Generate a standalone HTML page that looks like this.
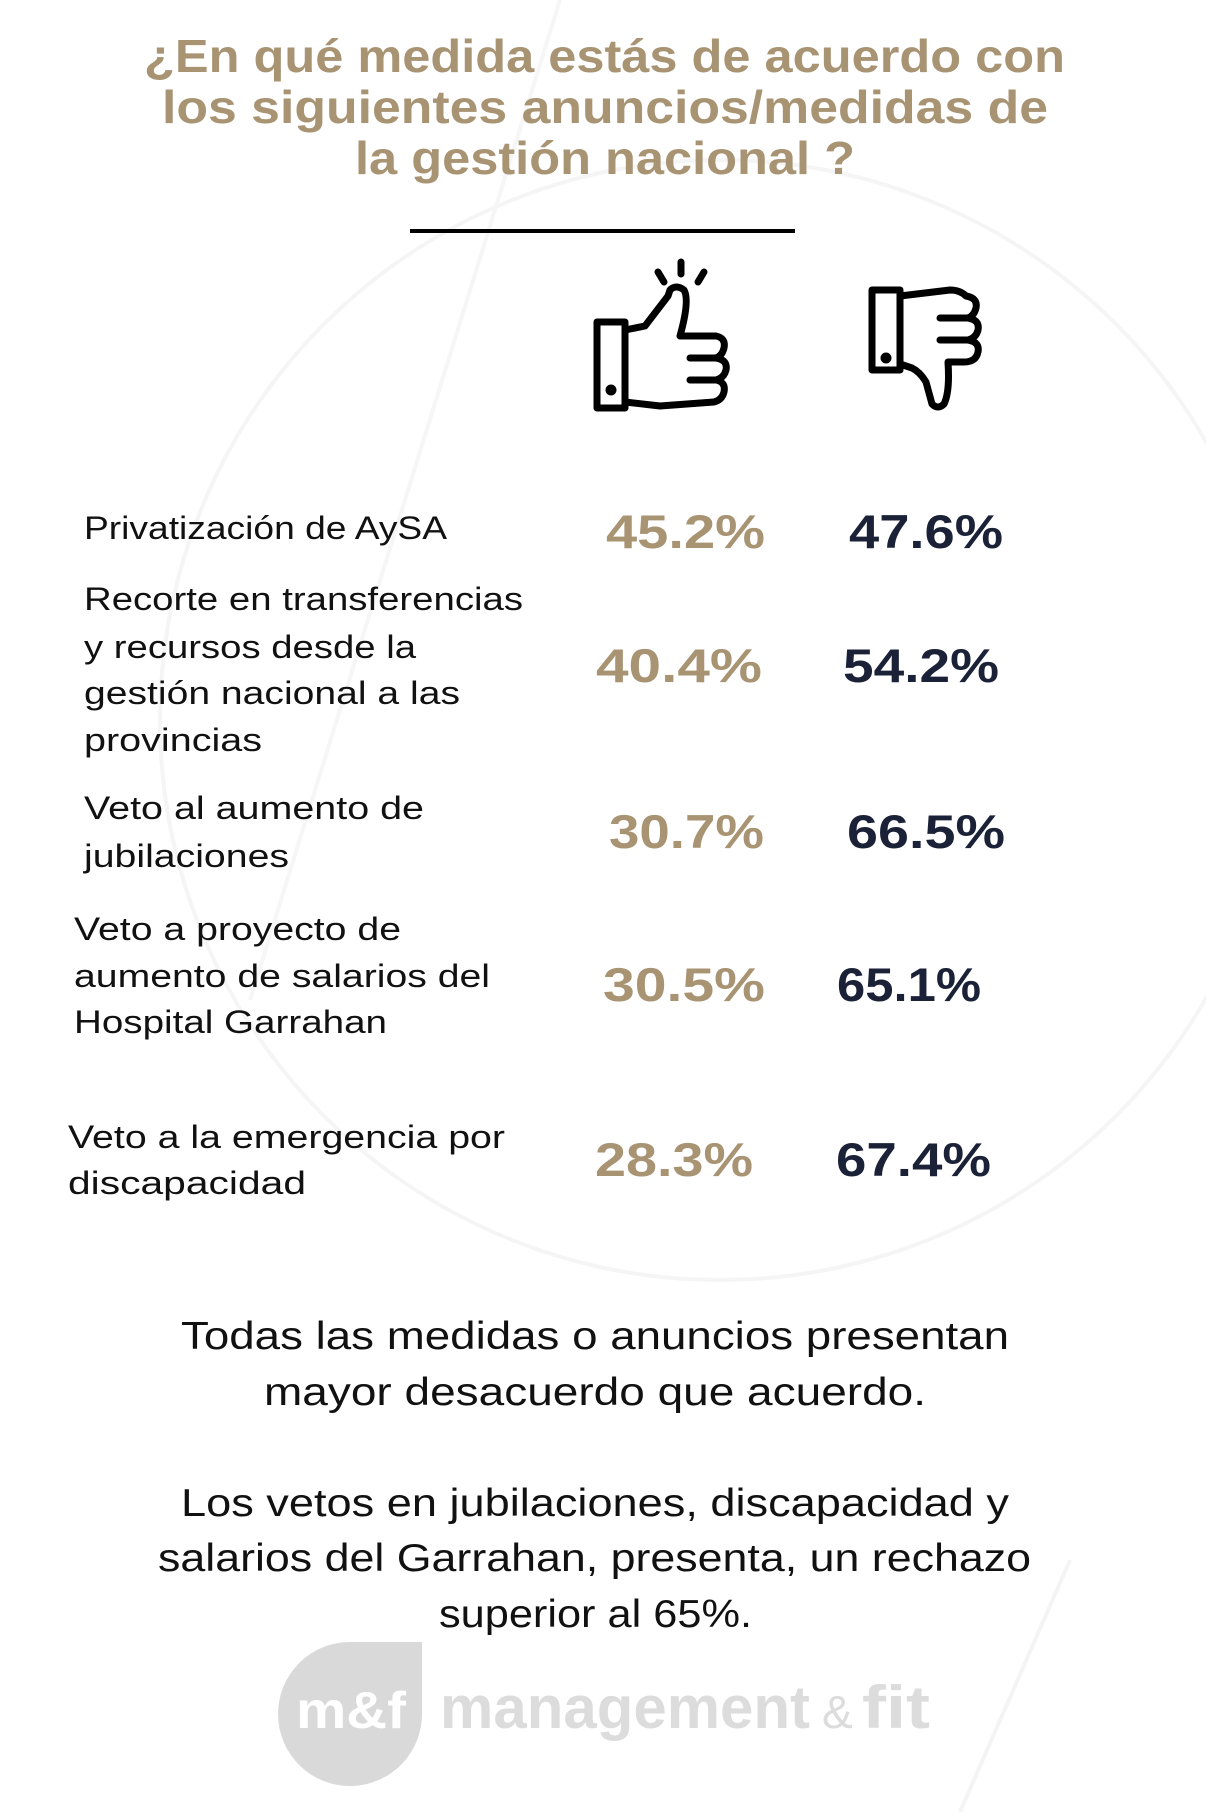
<!DOCTYPE html>
<html><head><meta charset="utf-8"><style>
html,body{margin:0;padding:0;background:#fff;}
svg{display:block;}
text{font-family:"Liberation Sans",sans-serif;}
</style></head><body>
<svg width="1206" height="1812" viewBox="0 0 1206 1812" xmlns="http://www.w3.org/2000/svg">
<rect width="1206" height="1812" fill="#fff"/>
<circle cx="720" cy="720" r="560" fill="none" stroke="#f5f5f5" stroke-width="4"/>
<path d="M560 0 L250 1000" stroke="#f6f6f6" stroke-width="4" fill="none"/>
<path d="M1070 1560 L960 1812" stroke="#f4f4f4" stroke-width="4" fill="none"/>
<g fill="#a89373" font-weight="bold" font-size="46" text-anchor="start">
<text x="144" y="72" textLength="921" lengthAdjust="spacingAndGlyphs">¿En qué medida estás de acuerdo con</text>
<text x="162" y="123" textLength="886" lengthAdjust="spacingAndGlyphs">los siguientes anuncios/medidas de</text>
<text x="355" y="174" textLength="500" lengthAdjust="spacingAndGlyphs">la gestión nacional ?</text>
</g>
<rect x="410" y="229" width="385" height="4" fill="#000"/>
<g fill="none" stroke="#000" stroke-width="7" stroke-linejoin="round" stroke-linecap="round">
<path d="M681 262 L681 274 M658 272 L664 282 M704 272 L698 282"/>
<rect x="597" y="322" width="28" height="86"/>
<path d="M625 330 L645 326 Q665 300 668 296 L670 290 Q676 284 684 290 Q690 300 680 336 L716 336 Q726 338 724 348 Q722 356 716 358 Q728 360 726 370 Q724 378 716 380 Q726 382 724 392 Q722 400 714 402 L660 406 L625 402"/>
<path d="M690 358 L716 358 M690 380 L716 380"/>
<circle cx="611" cy="390" r="2" fill="#000"/>
</g>
<g fill="none" stroke="#000" stroke-width="7" stroke-linejoin="round" stroke-linecap="round">
<rect x="872" y="290" width="28" height="80"/>
<path d="M900 296 L950 290 Q960 290 966 296 Q978 298 976 308 Q974 316 968 318 Q980 320 978 330 Q976 338 968 340 Q980 342 978 352 Q976 362 964 362 L948 362 Q950 392 944 404 Q938 410 932 404 L926 382 Q920 372 912 368 L900 364"/>
<path d="M940 318 L968 318 M940 340 L968 340"/>
<circle cx="886" cy="358" r="2" fill="#000"/>
</g>
<g fill="#111" font-size="32">
<text x="84" y="539" textLength="363" lengthAdjust="spacingAndGlyphs">Privatización de AySA</text>
<text x="84" y="610" textLength="439" lengthAdjust="spacingAndGlyphs">Recorte en transferencias</text>
<text x="84" y="658" textLength="332" lengthAdjust="spacingAndGlyphs">y recursos desde la</text>
<text x="84" y="704" textLength="376" lengthAdjust="spacingAndGlyphs">gestión nacional a las</text>
<text x="84" y="751" textLength="178" lengthAdjust="spacingAndGlyphs">provincias</text>
<text x="84" y="819" textLength="340" lengthAdjust="spacingAndGlyphs">Veto al aumento de</text>
<text x="84" y="867" textLength="205" lengthAdjust="spacingAndGlyphs">jubilaciones</text>
<text x="74" y="940" textLength="327" lengthAdjust="spacingAndGlyphs">Veto a proyecto de</text>
<text x="74" y="987" textLength="416" lengthAdjust="spacingAndGlyphs">aumento de salarios del</text>
<text x="74" y="1033" textLength="313" lengthAdjust="spacingAndGlyphs">Hospital Garrahan</text>
<text x="68" y="1148" textLength="437" lengthAdjust="spacingAndGlyphs">Veto a la emergencia por</text>
<text x="68" y="1194" textLength="238" lengthAdjust="spacingAndGlyphs">discapacidad</text>
</g>
<g font-size="47" font-weight="bold">
<g fill="#a89373">
<text x="606" y="548" textLength="159" lengthAdjust="spacingAndGlyphs">45.2%</text>
<text x="596" y="682" textLength="166" lengthAdjust="spacingAndGlyphs">40.4%</text>
<text x="609" y="848" textLength="155" lengthAdjust="spacingAndGlyphs">30.7%</text>
<text x="603" y="1001" textLength="162" lengthAdjust="spacingAndGlyphs">30.5%</text>
<text x="595" y="1176" textLength="158" lengthAdjust="spacingAndGlyphs">28.3%</text>
</g>
<g fill="#1b2238">
<text x="849" y="548" textLength="154" lengthAdjust="spacingAndGlyphs">47.6%</text>
<text x="843" y="682" textLength="156" lengthAdjust="spacingAndGlyphs">54.2%</text>
<text x="847" y="848" textLength="158" lengthAdjust="spacingAndGlyphs">66.5%</text>
<text x="837" y="1001" textLength="144" lengthAdjust="spacingAndGlyphs">65.1%</text>
<text x="836" y="1176" textLength="155" lengthAdjust="spacingAndGlyphs">67.4%</text>
</g>
</g>
<g fill="#111" font-size="39">
<text x="181" y="1349" textLength="828" lengthAdjust="spacingAndGlyphs">Todas las medidas o anuncios presentan</text>
<text x="264" y="1405" textLength="662" lengthAdjust="spacingAndGlyphs">mayor desacuerdo que acuerdo.</text>
<text x="181" y="1516" textLength="828" lengthAdjust="spacingAndGlyphs">Los vetos en jubilaciones, discapacidad y</text>
<text x="158" y="1571" textLength="873" lengthAdjust="spacingAndGlyphs">salarios del Garrahan, presenta, un rechazo</text>
<text x="439" y="1627" textLength="313" lengthAdjust="spacingAndGlyphs">superior al 65%.</text>
</g>
<path d="M422 1642 L422 1712 A72 72 0 1 1 350 1642 Z" fill="#d9d9d9"/>
<text x="296" y="1728" font-size="52" font-weight="bold" fill="#fff" textLength="110" lengthAdjust="spacingAndGlyphs">m&amp;f</text>
<text x="440" y="1728" font-size="60" font-weight="bold" fill="#dcdcdc" textLength="370" lengthAdjust="spacingAndGlyphs">management</text>
<text x="822" y="1728" font-size="46" fill="#dcdcdc">&amp;</text>
<text x="862" y="1728" font-size="60" font-weight="bold" fill="#dcdcdc" textLength="68" lengthAdjust="spacingAndGlyphs">fit</text>
</svg>
</body></html>
